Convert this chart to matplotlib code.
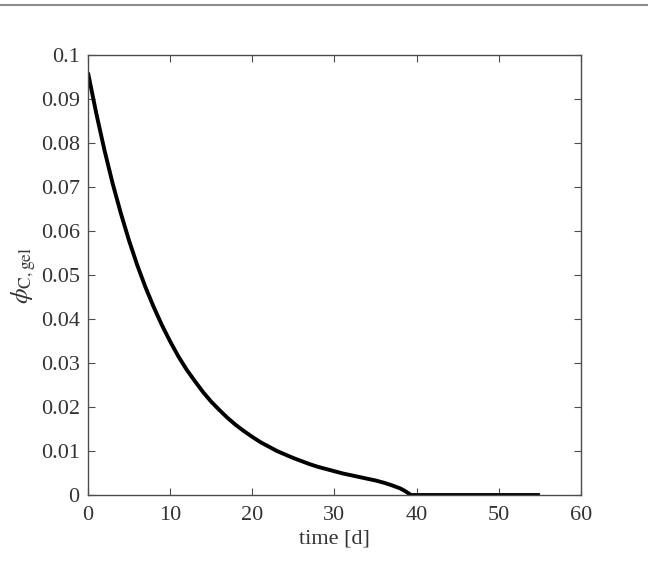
import matplotlib
matplotlib.use("Agg")
import matplotlib.pyplot as plt
from matplotlib.lines import Line2D

# values
time_d = [0, 1, 2, 3, 4, 5, 6, 7, 8, 9, 10, 11, 12, 13, 14, 15, 16, 17, 18, 19,
          20, 21, 22, 23, 24, 25, 26, 27, 28, 29, 30, 31, 32, 33, 34, 35, 36,
          37, 38, 38.5, 39, 39.3, 45, 50, 55]
phi_c_gel = [0.0960, 0.0868, 0.0784, 0.0708, 0.0640, 0.0578, 0.0522, 0.0472,
             0.0427, 0.0386, 0.0349, 0.0315, 0.0285, 0.0259, 0.0234, 0.0212,
             0.0193, 0.0175, 0.0159, 0.0145, 0.0132, 0.0120, 0.0110, 0.0100,
             0.0092, 0.0084, 0.0077, 0.0070, 0.0064, 0.0059, 0.0054, 0.0049,
             0.0045, 0.0041, 0.0037, 0.0033, 0.0028, 0.0022, 0.0015, 0.0010,
             0.0004, 0.0, 0.0, 0.0, 0.0]

xticks = [0, 10, 20, 30, 40, 50, 60]
yticks = [0, 0.01, 0.02, 0.03, 0.04, 0.05, 0.06, 0.07, 0.08, 0.09, 0.1]
ytick_labels = ["0", "0.01", "0.02", "0.03", "0.04", "0.05", "0.06", "0.07",
                "0.08", "0.09", "0.1"]

plt.rcParams['font.family'] = ['Liberation Serif', 'DejaVu Serif']
plt.rcParams['mathtext.fontset'] = 'stix'

fig = plt.figure(figsize=(6.48, 5.64), dpi=100)
ax = fig.add_axes([0.1358, 0.1223, 0.7608, 0.7802])

ax.plot(time_d, phi_c_gel, color='black', linewidth=2.8, solid_capstyle='butt')

ax.set_xlim(0, 60)
ax.set_ylim(0, 0.1)
ax.set_xticks(xticks)
ax.set_yticks(yticks)
ax.set_yticklabels(ytick_labels)

axis_col = '#4d4d4d'
for sp in ax.spines.values():
    sp.set_color(axis_col)
    sp.set_linewidth(1.0)
ax.tick_params(direction='in', top=True, right=True, length=5, width=0.8,
               color=axis_col, labelsize=16, labelcolor='#333333')
ax.tick_params(axis='x', pad=8)
ax.tick_params(axis='y', pad=6)

ax.set_xlabel('time [d]', fontsize=16, color='#333333', labelpad=3)
ax.set_ylabel(r'$\phi_{\mathrm{C,gel}}$', fontsize=18, color='#333333', labelpad=2)

# thin grey rule along the top of the page
fig.add_artist(Line2D([0, 1], [0.991, 0.991], transform=fig.transFigure,
                      color='#8c8c8c', linewidth=1.5))

fig.savefig('out.png', dpi=100)
